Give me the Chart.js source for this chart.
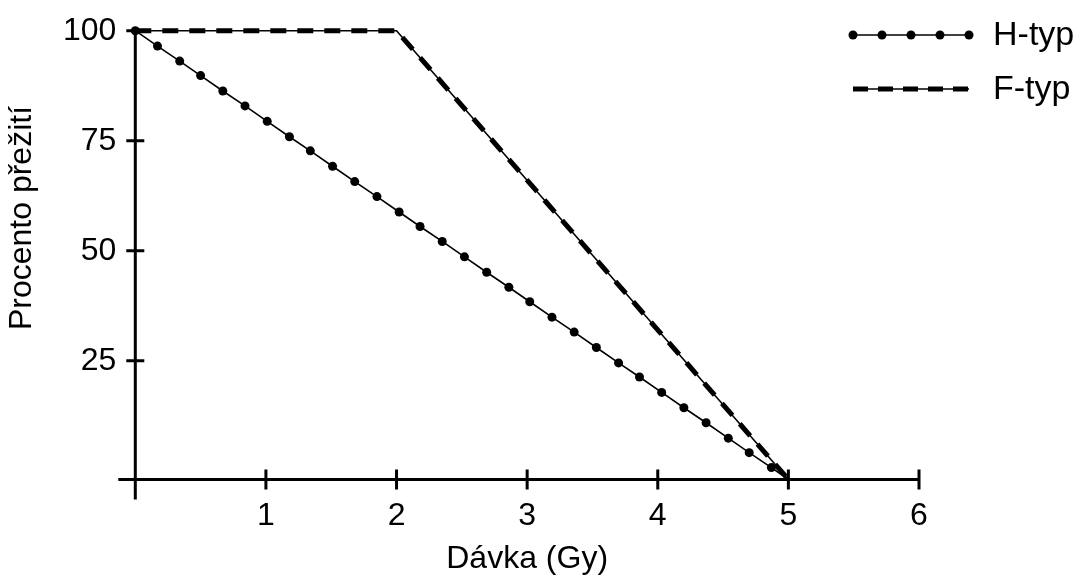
<!DOCTYPE html>
<html>
<head>
<meta charset="utf-8">
<script src="https://cdn.jsdelivr.net/npm/chart.js@4.4.1/dist/chart.umd.min.js"></script>
<style>
  html, body { margin: 0; padding: 0; background: #fff; }
  #obal { width: 1081px; height: 581px; position: relative; }
</style>
</head>
<body>
<div id="obal"><canvas id="graf"></canvas></div>
<script>
// H-typ: body (dávka v Gy, procento přežití)
const hDavka  = [0, 0.17, 0.34, 0.50, 0.67, 0.84, 1.01, 1.18, 1.34, 1.51, 1.68, 1.85, 2.02, 2.18, 2.35, 2.52,
                 2.69, 2.86, 3.02, 3.19, 3.36, 3.53, 3.70, 3.86, 4.03, 4.20, 4.37, 4.54, 4.70, 4.87, 5.00];
const hPrezit = [100, 96.5, 93.1, 89.8, 86.3, 82.9, 79.4, 75.9, 72.7, 69.2, 65.7, 62.3, 58.8, 55.5, 52.1, 48.6,
                 45.1, 41.7, 38.4, 34.9, 31.5, 28.0, 24.5, 21.3, 17.8, 14.3, 10.9, 7.4, 4.1, 0.7, -2];
// F-typ
const fDavka  = [0, 2, 5];
const fPrezit = [100, 100, -2];

const xTicks = [1, 2, 3, 4, 5, 6];
const yTicks = [25, 50, 75, 100];
const xMin = 0, xMax = 6, yMin = -2, yMax = 100;

const PISMO = '"Liberation Sans", Arial, sans-serif';

const body = (xs, ys) => xs.map((v, i) => ({ x: v, y: ys[i] }));

// osy s krizkovymi carkami
const osyPlugin = {
    id: 'osy',
    beforeDatasetsDraw(chart) {
        const { ctx, scales: { x, y } } = chart;
        const x0 = x.getPixelForValue(xMin);
        const y0 = y.getPixelForValue(yMin);
        ctx.save();
        ctx.strokeStyle = '#000';
        ctx.lineWidth = 3;
        ctx.beginPath();
        ctx.moveTo(x0 - 17, y0);
        ctx.lineTo(x.getPixelForValue(xMax), y0);
        ctx.moveTo(x0, y.getPixelForValue(yMax));
        ctx.lineTo(x0, y0 + 20);
        xTicks.forEach(v => {
            const px = x.getPixelForValue(v);
            ctx.moveTo(px, y0 - 10);
            ctx.lineTo(px, y0 + 10);
        });
        yTicks.forEach(v => {
            const py = y.getPixelForValue(v);
            ctx.moveTo(x0 - 9, py);
            ctx.lineTo(x0 + 9, py);
        });
        ctx.stroke();

        // popisek osy y
        ctx.fillStyle = '#000';
        ctx.font = '32px ' + PISMO;
        ctx.textAlign = 'center';
        ctx.textBaseline = 'middle';
        ctx.translate(22, 218);
        ctx.rotate(-Math.PI / 2);
        ctx.fillText('Procento přežití', 0, 0);
        ctx.restore();
    }
};

// legenda vpravo nahore
const legendaPlugin = {
    id: 'legenda',
    afterDraw(chart) {
        const { ctx } = chart;
        const ds = chart.data.datasets;
        const x1 = 853, x2 = 969, xt = 993;
        ctx.save();
        ctx.strokeStyle = '#000';
        ctx.fillStyle = '#000';

        // H-typ
        let yy = 35;
        ctx.lineWidth = 1.5;
        ctx.beginPath();
        ctx.moveTo(x1, yy);
        ctx.lineTo(x2, yy);
        ctx.stroke();
        for (let i = 0; i < 5; i++) {
            ctx.beginPath();
            ctx.arc(x1 + i * (x2 - x1) / 4, yy, 4.5, 0, Math.PI * 2);
            ctx.fill();
        }
        ctx.font = '34px ' + PISMO;
        ctx.textAlign = 'left';
        ctx.textBaseline = 'middle';
        ctx.fillText(ds[0].label, xt, yy + 1);

        // F-typ
        yy = 89;
        ctx.lineWidth = 1.5;
        ctx.beginPath();
        ctx.moveTo(x1, yy);
        ctx.lineTo(x2, yy);
        ctx.stroke();
        ctx.lineWidth = 5;
        ctx.setLineDash([15, 10]);
        ctx.beginPath();
        ctx.moveTo(x1, yy);
        ctx.lineTo(x2, yy);
        ctx.stroke();
        ctx.setLineDash([]);
        ctx.fillText(ds[1].label, xt, yy + 1);
        ctx.restore();
    }
};

new Chart(document.getElementById('graf'), {
    type: 'line',
    data: {
        datasets: [
            {
                label: 'H-typ',
                data: body(hDavka, hPrezit),
                borderColor: '#000',
                borderWidth: 1.6,
                pointRadius: hDavka.map((v, i) => i === hDavka.length - 1 ? 0 : 4.5),
                pointBackgroundColor: '#000',
                pointBorderWidth: 0,
                tension: 0,
                clip: false
            },
            {
                label: 'F-typ',
                data: body(fDavka, fPrezit),
                borderColor: '#000',
                borderWidth: 1.6,
                pointRadius: 0,
                tension: 0,
                clip: false
            },
            {
                label: 'F-typ',
                data: body(fDavka, fPrezit),
                borderColor: '#000',
                borderWidth: 5,
                borderDash: [16, 11],
                borderCapStyle: 'butt',
                pointRadius: 0,
                tension: 0,
                clip: false
            }
        ]
    },
    options: {
        responsive: true,
        maintainAspectRatio: false,
        animation: false,
        layout: { padding: { top: 30.7, right: 162, left: 0, bottom: 0 } },
        plugins: {
            legend: { display: false },
            tooltip: { enabled: false }
        },
        scales: {
            x: {
                type: 'linear',
                min: xMin,
                max: xMax,
                afterBuildTicks: s => { s.ticks = xTicks.map(v => ({ value: v })); },
                afterFit: s => { s.height = 101.5; s.paddingLeft = 0; s.paddingRight = 0; },
                grid: { display: false, drawTicks: false },
                border: { display: false },
                ticks: { color: '#000', font: { size: 32, family: PISMO }, padding: 17, maxRotation: 0 },
                title: {
                    display: true,
                    text: 'Dávka (Gy)',
                    color: '#000',
                    font: { size: 32, family: PISMO },
                    padding: { top: 0, bottom: 3 }
                }
            },
            y: {
                type: 'linear',
                min: yMin,
                max: yMax,
                afterBuildTicks: s => { s.ticks = yTicks.map(v => ({ value: v })); },
                afterFit: s => { s.width = 135.3; s.paddingTop = 0; s.paddingBottom = 0; },
                grid: { display: false, drawTicks: false },
                border: { display: false },
                ticks: { color: '#000', font: { size: 32, family: PISMO }, padding: 19 }
            }
        }
    },
    plugins: [osyPlugin, legendaPlugin]
});
</script>
</body>
</html>
